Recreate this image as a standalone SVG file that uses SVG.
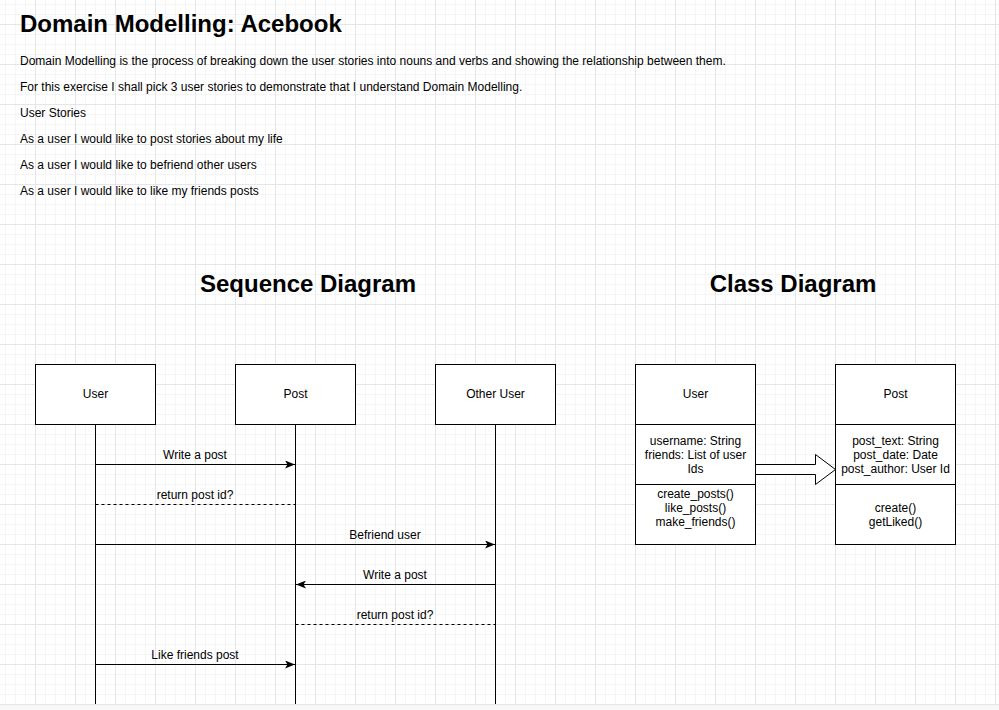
<svg xmlns="http://www.w3.org/2000/svg" width="999" height="710" viewBox="0 0 999 710">
<defs>
<pattern id="grid" x="35" y="24" width="40" height="40" patternUnits="userSpaceOnUse">
<path d="M10.5 0V40M20.5 0V40M30.5 0V40M0 10.5H40M0 20.5H40M0 30.5H40" stroke="#f5f5f5" stroke-width="1" fill="none"/>
<path d="M0.5 0V40M0 0.5H40" stroke="#e6e6e6" stroke-width="1" fill="none"/>
</pattern>
<marker id="arr" viewBox="0 0 10 8" refX="10" refY="4" markerWidth="10" markerHeight="8" markerUnits="userSpaceOnUse" orient="auto">
<path d="M0 0L10 4L0 8L2.5 4Z" fill="#000"/>
</marker>
<style>
text{font-family:"Liberation Sans",Arial,Helvetica,sans-serif;fill:#000}
.t{font-size:12px}
.c{font-size:12px;text-anchor:middle}
.h{font-size:24px;font-weight:bold}
.hc{font-size:24px;font-weight:bold;text-anchor:middle}
.box{fill:#fff;stroke:#000;stroke-width:1}
.ln{stroke:#000;stroke-width:1;fill:none}
.msg{stroke:#000;stroke-width:1;fill:none;marker-end:url(#arr)}
.dash{stroke:#000;stroke-width:1;fill:none;stroke-dasharray:3 3}
</style>
</defs>
<rect x="0" y="0" width="999" height="710" fill="#fff"/>
<rect x="0" y="0" width="999" height="705" fill="url(#grid)"/>
<rect x="0" y="705" width="999" height="5" fill="#f7f7f7"/>

<g id="title">
<text class="h" x="20" y="32">Domain Modelling: Acebook</text>
</g>
<g id="intro">
<text class="t" x="20" y="65">Domain Modelling is the process of breaking down the user stories into nouns and verbs and showing the relationship between them.</text>
<text class="t" x="20" y="91">For this exercise I shall pick 3 user stories to demonstrate that I understand Domain Modelling.</text>
<text class="t" x="20" y="117">User Stories</text>
<text class="t" x="20" y="143">As a user I would like to post stories about my life</text>
<text class="t" x="20" y="169">As a user I would like to befriend other users</text>
<text class="t" x="20" y="195">As a user I would like to like my friends posts</text>
</g>
<g id="seq-title"><text class="hc" x="308" y="292">Sequence Diagram</text></g>
<g id="class-title"><text class="hc" x="793" y="292">Class Diagram</text></g>

<g id="connectors">
<path class="ln" d="M95.5 424V704"/>
<path class="ln" d="M295.5 424V704"/>
<path class="ln" d="M495.5 424V704"/>
<path class="msg" d="M95.5 464.5H295"/>
<path class="dash" d="M95.5 504.5H295.5"/>
<path class="msg" d="M95.5 544.5H495"/>
<path class="msg" d="M495.5 584.5H296"/>
<path class="dash" d="M295.5 624.5H495.5"/>
<path class="msg" d="M95.5 664.5H295"/>
<path d="M755.5 464.5H815.5V454.5L835.5 469.5L815.5 484.5V474.5H755.5Z" fill="#fff" stroke="#000" stroke-width="1"/>
</g>
<g id="msg-labels">
<text class="c" x="195" y="459">Write a post</text>
<text class="c" x="195" y="499">return post id?</text>
<text class="c" x="385" y="539">Befriend user</text>
<text class="c" x="395" y="579">Write a post</text>
<text class="c" x="395" y="619">return post id?</text>
<text class="c" x="195" y="659">Like friends post</text>
</g>

<g id="seq-user">
<rect class="box" x="35.5" y="364.5" width="120" height="60"/>
<text class="c" x="95.5" y="398">User</text>
</g>
<g id="seq-post">
<rect class="box" x="235.5" y="364.5" width="120" height="60"/>
<text class="c" x="295.5" y="398">Post</text>
</g>
<g id="seq-other-user">
<rect class="box" x="435.5" y="364.5" width="120" height="60"/>
<text class="c" x="495.5" y="398">Other User</text>
</g>

<g id="class-user">
<rect class="box" x="635.5" y="364.5" width="120" height="60"/>
<rect class="box" x="635.5" y="424.5" width="120" height="60"/>
<rect class="box" x="635.5" y="484.5" width="120" height="60"/>
<text class="c" x="695.5" y="398">User</text>
<text class="c" x="695.5" y="445">username: String</text>
<text class="c" x="695.5" y="459">friends: List of user</text>
<text class="c" x="695.5" y="473">Ids</text>
<text class="c" x="695.5" y="498">create_posts()</text>
<text class="c" x="695.5" y="512">like_posts()</text>
<text class="c" x="695.5" y="526">make_friends()</text>
</g>
<g id="class-post">
<rect class="box" x="835.5" y="364.5" width="120" height="60"/>
<rect class="box" x="835.5" y="424.5" width="120" height="60"/>
<rect class="box" x="835.5" y="484.5" width="120" height="60"/>
<text class="c" x="895.5" y="398">Post</text>
<text class="c" x="895.5" y="445">post_text: String</text>
<text class="c" x="895.5" y="459">post_date: Date</text>
<text class="c" x="895.5" y="473">post_author: User Id</text>
<text class="c" x="895.5" y="512">create()</text>
<text class="c" x="895.5" y="526">getLiked()</text>
</g>
</svg>
